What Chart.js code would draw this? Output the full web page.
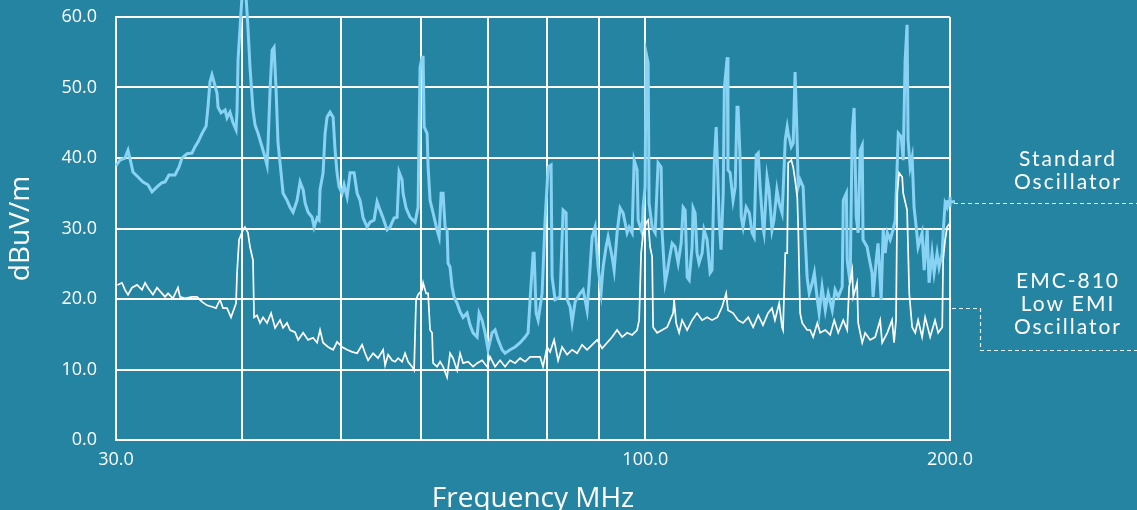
<!DOCTYPE html>
<html>
<head>
<meta charset="utf-8">
<script src="https://cdn.jsdelivr.net/npm/chart.js@4.4.1/dist/chart.umd.min.js"></script>
<style>
  html, body { margin: 0; padding: 0; background: #2684a3; }
  #wrap { position: relative; width: 1137px; height: 510px; overflow: hidden; }
  canvas { position: absolute; left: 0; top: 0; }
  .note {
    position: absolute; width: 150px; text-align: center; color: #fff;
    font-family: Lato, "Open Sans", sans-serif; font-size: 21px;
    letter-spacing: 2px; line-height: 23px;
  }
</style>
</head>
<body>
<div id="wrap">
  <canvas id="emi" width="1137" height="510"></canvas>
  <div class="note" style="left:993px; top:146px;">Standard<br>Oscillator</div>
  <div class="note" style="left:993px; top:268px;">EMC-810<br>Low EMI<br>Oscillator</div>
</div>
<script>
// frequency axis (MHz)
const xGrid = [30, 40, 50, 60, 70, 80, 90, 100, 200];
const xLabels = [30, 100, 200];

// standard oscillator, dBuV/m
const stdFreq = [
  30.0, 30.27, 30.62, 30.83, 31.04, 31.18, 31.54, 31.90, 32.26, 32.56,
  32.93, 33.31, 33.54, 33.84, 34.31, 34.62, 34.86, 35.26, 35.66, 35.91,
  36.16, 36.49, 36.82, 36.98, 37.15, 37.32, 37.49, 37.75, 37.84, 38.10,
  38.45, 38.62, 38.88, 39.15, 39.42, 39.51, 39.60, 39.96, 40.32, 40.50,
  40.69, 40.97, 41.16, 41.44, 41.82, 42.11, 42.30, 42.40, 42.59, 42.79,
  42.98, 43.18, 43.37, 43.57, 43.87, 44.27, 44.57, 44.88, 45.29, 45.60,
  45.92, 46.13, 46.44, 46.86, 47.08, 47.40, 47.61, 47.72, 48.05, 48.27,
  48.49, 48.82, 49.16, 49.38, 49.60, 49.83, 50.17, 50.40, 50.75, 51.09,
  51.56, 51.92, 52.27, 52.63, 53.11, 53.47, 53.96, 54.33, 54.70, 55.08,
  55.58, 55.96, 56.47, 56.86, 57.12, 57.51, 57.64, 58.04, 58.56, 59.24,
  59.64, 59.91, 60.19, 60.33, 60.47, 60.88, 61.02, 61.29, 61.71, 62.27,
  62.56, 62.85, 63.13, 63.42, 63.71, 63.85, 64.14, 64.44, 64.73, 65.18,
  65.62, 66.07, 66.67, 67.13, 67.59, 68.21, 68.52, 68.99, 69.46, 69.93,
  70.57, 71.06, 71.55, 72.20, 72.69, 73.52, 74.36, 75.22, 76.08, 76.60,
  76.95, 77.48, 77.66, 78.01, 78.37, 79.08, 79.62, 80.17, 80.71, 80.90,
  81.45, 82.38, 82.95, 83.52, 83.71, 84.28, 84.67, 85.25, 86.22, 86.81,
  87.60, 88.00, 88.61, 89.22, 89.82, 90.44, 90.85, 91.47, 91.89, 92.73,
  93.16, 93.79, 94.43, 95.08, 95.95, 96.39, 97.05, 97.50, 98.16, 98.39,
  99.28, 99.51, 99.96, 100.19, 100.65, 100.87, 101.57, 102.27, 102.96, 103.67,
  103.91, 104.62, 105.10, 105.57, 106.30, 107.03, 107.76, 108.5, 109.0, 109.5,
  110.0, 110.5, 111.24, 111.49, 112.0, 112.5, 113.0, 113.8, 114.3, 115.1,
  115.89, 116.4, 117.0, 117.5, 117.8, 118.3, 118.8, 119.4, 119.7, 120.5,
  120.7, 121.29, 122.1, 122.7, 123.2, 123.5, 124.08, 124.4, 124.9, 125.8,
  126.7, 127.5, 128.1, 128.7, 129.3, 129.85, 130.7, 131.0, 131.9, 132.5,
  133.4, 134.0, 134.9, 135.6, 136.5, 136.8, 137.5, 138.1, 138.4, 139.4,
  140.0, 140.6, 141.3, 141.6, 142.22, 143.2, 143.9, 144.5, 145.2, 146.2,
  146.9, 147.9, 148.5, 149.5, 150.6, 151.6, 153.0, 154.0, 155.1, 156.5,
  156.9, 158.0, 158.3, 159.36, 160.1, 160.8, 161.6, 162.3, 163.03, 163.8,
  164.1, 165.6, 166.3, 167.5, 167.9, 169.1, 169.8, 171.0, 171.8, 172.6,
  173.4, 174.54, 175.7, 176.6, 177.4, 177.8, 179.0, 179.8, 180.6, 181.4,
  181.8, 182.67, 183.5, 184.3, 185.2, 186.0, 187.7, 188.6, 189.9, 190.7,
  192.0, 192.9, 194.2, 195.1, 196.5, 196.9, 197.8, 198.7, 199.2, 200.0
];
const stdLevel = [
  38.9, 39.7, 40.0, 41.1, 39.3, 38.0, 37.3, 36.6, 36.2, 35.2,
  35.9, 36.5, 36.6, 37.6, 37.6, 38.7, 40.0, 40.6, 40.7, 41.6,
  42.3, 43.5, 44.5, 47.2, 50.8, 51.8, 50.8, 49.2, 47.2, 46.4,
  46.8, 45.7, 46.5, 45.0, 44.0, 46.8, 53.9, 63.0, 63.0, 58.6,
  52.9, 46.8, 44.7, 43.5, 41.6, 40.1, 39.0, 42.1, 49.6, 55.3,
  55.7, 49.6, 42.1, 39.3, 35.0, 34.0, 33.0, 32.3, 34.0, 36.6,
  35.5, 33.6, 32.3, 31.6, 30.2, 31.5, 31.2, 35.5, 37.9, 43.5,
  45.8, 46.5, 45.8, 41.1, 37.9, 35.9, 35.0, 36.2, 34.5, 37.9,
  37.9, 35.0, 34.0, 31.5, 30.2, 30.9, 31.2, 33.8, 32.6, 31.5,
  29.8, 30.2, 31.5, 31.6, 38.0, 36.9, 35.0, 32.9, 31.6, 30.9,
  33.0, 52.9, 54.3, 54.3, 44.4, 43.5, 38.7, 34.0, 32.2, 29.8,
  28.8, 35.0, 35.0, 30.2, 29.8, 25.1, 24.5, 21.7, 20.3, 19.4,
  18.2, 17.4, 18.0, 16.3, 15.2, 14.6, 18.0, 17.0, 15.2, 12.8,
  15.2, 15.6, 14.2, 12.8, 12.3, 12.8, 13.2, 13.8, 14.6, 15.2,
  19.9, 26.5, 26.5, 18.0, 17.0, 20.8, 31.2, 38.7, 39.0, 23.1,
  19.9, 20.3, 32.6, 32.2, 19.9, 18.9, 16.7, 19.6, 20.8, 21.3,
  18.4, 22.3, 28.8, 30.2, 24.5, 21.0, 24.5, 27.4, 28.8, 26.0,
  24.1, 29.4, 32.9, 32.2, 29.4, 30.2, 29.4, 39.7, 38.3, 31.2,
  29.4, 33.0, 35.9, 54.9, 53.5, 33.6, 30.2, 29.4, 39.3, 38.7,
  29.4, 22.3, 23.7, 25.5, 27.9, 27.4, 25.1, 27.9, 33.0, 32.6,
  23.1, 22.7, 27.4, 32.9, 32.2, 26.5, 25.1, 26.5, 29.8, 28.4,
  23.7, 24.1, 39.3, 44.4, 39.7, 31.2, 27.0, 35.0, 49.9, 54.3,
  38.3, 37.9, 34.0, 35.9, 47.2, 47.2, 39.7, 31.6, 30.2, 33.0,
  32.2, 29.4, 28.8, 40.4, 40.7, 35.9, 30.2, 29.4, 37.3, 35.5,
  29.8, 31.2, 35.5, 33.6, 32.2, 35.0, 42.6, 44.4, 43.5, 41.6,
  42.1, 52.2, 42.1, 35.9, 36.9, 35.9, 28.4, 23.1, 20.8, 22.3,
  23.7, 19.9, 18.0, 21.7, 18.4, 20.8, 18.4, 21.3, 20.3, 21.7,
  34.0, 35.0, 25.5, 22.3, 43.5, 47.1, 31.6, 29.4, 41.1, 41.8,
  28.4, 27.4, 26.0, 23.7, 20.3, 25.5, 27.9, 19.9, 29.8, 26.5,
  29.4, 28.4, 29.8, 31.2, 39.3, 43.5, 43.0, 39.7, 53.9, 58.9,
  42.6, 38.7, 40.1, 33.0, 30.2, 27.4, 29.4, 24.1, 29.8, 22.3,
  26.5, 23.7, 26.5, 24.5, 26.5, 29.4, 33.6, 33.0, 33.8, 33.8
];

// EMC-810 low EMI oscillator, dBuV/m
const emcFreq = [
  30.1, 30.41, 30.62, 30.83, 31.11, 31.47, 31.83, 32.05, 32.26, 32.63,
  32.93, 33.31, 33.54, 33.77, 34.15, 34.54, 34.70, 35.10, 35.66, 36.07,
  36.49, 36.90, 37.32, 37.66, 38.01, 38.27, 38.62, 38.97, 39.15, 39.42,
  39.51, 39.69, 40.05, 40.23, 40.50, 40.69, 40.97, 41.07, 41.35, 41.63,
  41.92, 42.30, 42.69, 43.08, 43.57, 43.87, 44.27, 44.57, 45.08, 45.40,
  45.92, 46.44, 46.97, 47.40, 47.72, 48.05, 48.60, 49.16, 49.60, 50.17,
  50.75, 51.33, 51.92, 52.51, 52.87, 53.23, 53.84, 54.45, 55.08, 55.33,
  55.71, 56.22, 56.60, 56.99, 57.51, 57.90, 58.30, 58.83, 59.10, 59.37,
  59.64, 60.19, 60.33, 60.74, 61.02, 61.29, 61.57, 61.71, 62.27, 62.70,
  63.13, 63.71, 64.14, 64.58, 65.18, 65.62, 66.07, 66.82, 67.59, 68.21,
  68.99, 69.78, 70.25, 71.06, 71.87, 72.69, 73.52, 74.36, 75.22, 76.08,
  76.95, 77.83, 78.72, 79.25, 79.98, 80.53, 81.27, 82.01, 82.76, 83.71,
  84.67, 85.64, 86.61, 87.60, 88.61, 89.62, 90.65, 91.68, 92.73, 93.79,
  94.86, 95.95, 97.05, 98.16, 98.61, 99.06, 99.51, 100.19, 100.65, 101.10,
  101.57, 101.80, 102.73, 103.91, 105.10, 105.81, 106.54, 106.78, 107.27, 108.0,
  108.74, 109.99, 111.24, 112.5, 113.8, 115.1, 116.4, 117.8, 119.1, 120.2,
  120.7, 122.1, 123.5, 124.9, 126.4, 127.8, 129.3, 130.7, 132.2, 133.4,
  134.3, 135.6, 136.5, 136.8, 137.5, 138.1, 138.4, 139.4, 140.0, 140.6,
  141.3, 141.6, 142.22, 142.9, 144.5, 145.5, 146.5, 147.9, 148.85, 150.6,
  152.27, 153.7, 155.1, 156.9, 158.3, 159.0, 160.1, 160.5, 161.9, 162.3,
  163.8, 164.9, 166.78, 168.7, 170.62, 171.4, 173.4, 175.3, 176.1, 176.9,
  177.4, 178.1, 179.4, 179.8, 181.4, 182.3, 183.5, 184.8, 186.0, 187.7,
  189.0, 191.17, 193.3, 194.7, 196.5, 196.9, 197.8, 198.7, 200.0
];
const emcLevel = [
  22.0, 22.3, 21.3, 20.6, 21.6, 22.0, 21.3, 22.3, 21.6, 20.6,
  21.6, 20.8, 20.3, 20.8, 20.1, 21.6, 20.3, 20.1, 20.3, 20.3,
  19.6, 19.1, 18.9, 18.7, 19.9, 18.7, 18.7, 17.4, 18.2, 19.4,
  23.7, 28.4, 29.8, 30.2, 29.4, 27.4, 25.5, 17.4, 17.7, 16.6,
  17.4, 16.6, 18.0, 15.9, 17.0, 15.9, 16.6, 15.6, 15.3, 14.2,
  15.2, 14.2, 14.5, 13.8, 15.6, 13.8, 13.2, 12.8, 13.9, 13.2,
  12.8, 12.5, 12.3, 13.5, 12.3, 11.3, 12.3, 11.6, 12.8, 10.6,
  12.1, 11.3, 11.1, 11.6, 11.1, 12.3, 11.1, 10.4, 9.9, 19.9,
  20.6, 21.3, 22.3, 20.8, 20.8, 15.6, 15.2, 10.9, 10.4, 11.1,
  10.4, 8.9, 12.3, 11.6, 9.9, 12.3, 10.9, 11.1, 10.4, 10.9,
  11.3, 10.4, 11.8, 10.4, 11.3, 10.4, 11.3, 10.9, 11.6, 11.1,
  11.8, 11.8, 11.8, 10.4, 13.2, 12.5, 14.2, 11.3, 13.2, 12.1,
  12.8, 12.3, 13.5, 12.8, 13.5, 14.2, 13.0, 13.8, 14.6, 15.6,
  14.6, 15.2, 14.9, 15.6, 17.0, 26.5, 29.4, 30.8, 31.2, 27.4,
  26.0, 16.0, 15.2, 15.6, 16.0, 17.0, 18.0, 19.9, 16.6, 15.2,
  17.0, 15.6, 17.0, 18.0, 17.0, 17.4, 17.0, 17.4, 18.9, 20.8,
  18.4, 18.0, 17.0, 16.6, 17.4, 16.0, 17.7, 16.3, 18.0, 18.7,
  17.0, 19.4, 16.0, 15.6, 26.5, 26.5, 39.3, 39.7, 38.7, 36.9,
  34.5, 30.2, 18.0, 16.6, 15.6, 15.6, 14.6, 16.6, 15.2, 15.6,
  14.9, 17.0, 15.2, 17.0, 15.6, 21.7, 24.1, 20.3, 22.3, 16.6,
  13.8, 15.2, 14.2, 14.6, 17.0, 13.8, 15.2, 17.0, 13.8, 17.0,
  35.0, 37.9, 37.3, 35.0, 32.6, 20.8, 16.0, 15.2, 17.0, 14.6,
  17.4, 14.6, 17.0, 15.2, 16.0, 25.5, 28.4, 30.2, 30.8
];

// where the dashed leaders meet the plot (dBuV/m)
const stdLeader = 33.6;
const emcLeader = [18.7, 12.7];

const STD_COLOR = "#88d3f3";
const WHITE = "#ffffff";
const FONT = "'Open Sans', 'DejaVu Sans', sans-serif";

function toPoints(xs, ys) {
  const n = Math.min(xs.length, ys.length);
  return Array.from({ length: n }, (_, i) => ({ x: xs[i], y: ys[i] }));
}

const leaderLines = {
  id: "leaderLines",
  afterDraw(chart) {
    const { ctx, chartArea, scales } = chart;
    const w = chart.width;
    const yS = Math.round(scales.y.getPixelForValue(stdLeader)) + 0.5;
    const y1 = Math.round(scales.y.getPixelForValue(emcLeader[0])) + 0.5;
    const y2 = Math.round(scales.y.getPixelForValue(emcLeader[1])) + 0.5;
    const knee = chartArea.right + 30.5;
    ctx.save();
    ctx.strokeStyle = "rgba(255,255,255,0.9)";
    ctx.lineWidth = 1.2;
    ctx.setLineDash([4, 3]);
    ctx.beginPath();
    ctx.moveTo(chartArea.right + 4, yS);
    ctx.lineTo(w, yS);
    ctx.stroke();
    ctx.beginPath();
    ctx.moveTo(chartArea.right + 2, y1);
    ctx.lineTo(knee, y1);
    ctx.lineTo(knee, y2);
    ctx.lineTo(w, y2);
    ctx.stroke();
    ctx.restore();
  },
};

const lastStd = stdFreq.length - 1;

new Chart(document.getElementById("emi"), {
  type: "line",
  data: {
    datasets: [
      {
        label: "EMC-810 Low EMI Oscillator",
        data: toPoints(emcFreq, emcLevel),
        borderColor: WHITE,
        borderWidth: 1.7,
        pointRadius: 0,
        tension: 0,
      },
      {
        label: "Standard Oscillator",
        data: toPoints(stdFreq, stdLevel),
        borderColor: STD_COLOR,
        backgroundColor: STD_COLOR,
        borderWidth: 3,
        pointRadius: (c) => (c.dataIndex === lastStd ? 5 : 0),
        pointStyle: "cross",
        pointBorderWidth: 3,
        tension: 0,
        clip: false,
      },
    ],
  },
  options: {
    responsive: false,
    animation: false,
    events: [],
    layout: { padding: { top: 17, right: 187, left: 0, bottom: 0 } },
    plugins: { legend: { display: false }, tooltip: { enabled: false } },
    scales: {
      x: {
        type: "logarithmic",
        min: 30,
        max: 200,
        afterBuildTicks: (s) => { s.ticks = xGrid.map((v) => ({ value: v })); },
        afterFit: (s) => { s.height = 70; s.paddingLeft = 0; s.paddingRight = 0; },
        grid: { color: WHITE, lineWidth: 2, drawTicks: false },
        border: { color: WHITE, width: 2 },
        ticks: {
          color: WHITE,
          font: { family: FONT, size: 18 },
          padding: 9,
          autoSkip: false,
          maxRotation: 0,
          callback: (v) => (xLabels.includes(v) ? Number(v).toFixed(1) : ""),
        },
        title: {
          display: true,
          text: "Frequency MHz",
          color: WHITE,
          font: { family: FONT, size: 28, lineHeight: 1 },
          padding: { top: 0, bottom: -3 },
        },
      },
      y: {
        min: 0,
        max: 60,
        afterFit: (s) => { s.width = 116; s.paddingTop = 0; s.paddingBottom = 0; },
        grid: { color: WHITE, lineWidth: 2, drawTicks: false },
        border: { color: WHITE, width: 2 },
        ticks: {
          stepSize: 10,
          color: WHITE,
          font: { family: FONT, size: 18 },
          padding: 19,
          callback: (v) => Number(v).toFixed(1),
        },
        title: {
          display: true,
          text: "dBuV/m",
          color: WHITE,
          font: { family: FONT, size: 28, lineHeight: 1 },
          padding: { top: 7, bottom: 0 },
        },
      },
    },
  },
  plugins: [leaderLines],
});
</script>
</body>
</html>
